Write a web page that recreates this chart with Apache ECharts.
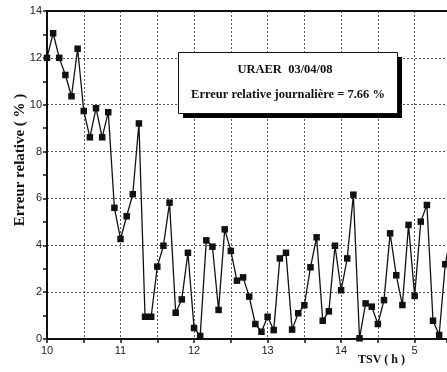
<!DOCTYPE html>
<html>
<head>
<meta charset="utf-8">
<script src="https://cdn.jsdelivr.net/npm/echarts@6/dist/echarts.min.js"></script>
<style>html,body{margin:0;padding:0;background:#fff;}#c{width:447px;height:372px;}</style>
</head>
<body>
<div id="c"></div>
<script>
// Time in hours (TSV), one point every 5 minutes starting at 10:00
const startHour = 10;
const stepHours = 5 / 60;
// Relative error (%)
const errorValues = [
  12.0, 13.05, 12.0, 11.27, 10.36, 12.39, 9.73, 8.61, 9.85, 8.61,
  9.68, 5.6, 4.27, 5.24, 6.18, 9.2, 0.95, 0.95, 3.09, 3.98,
  5.82, 1.12, 1.69, 3.68, 0.47, 0.13, 4.21, 3.94, 1.24, 4.68,
  3.76, 2.49, 2.63, 1.81, 0.64, 0.31, 0.95, 0.38, 3.44, 3.68,
  0.4, 1.1, 1.44, 3.06, 4.34, 0.78, 1.18, 3.98, 2.08, 3.44,
  6.16, 0.03, 1.52, 1.38, 0.64, 1.66, 4.51, 2.72, 1.45, 4.87,
  1.84, 5.01, 5.72, 0.78, 0.17, 3.19, 4.6
];
const xTickLabels = {10: '10', 11: '11', 12: '12', 13: '13', 14: '14', 15: '5'};
const yTickLabels = ['0', '2', '4', '6', '8', '10', '12', '14'];
const boxTitle = 'URAER  03/04/08';
const boxSubtitle = 'Erreur relative journalière = 7.66 %';
const yAxisTitle = 'Erreur relative ( % )';
const xAxisTitle = 'TSV ( h )';

const seriesData = errorValues.map((v, i) => [startHour + i * stepHours, v]);

const chart = echarts.init(document.getElementById('c'), null, {renderer: 'canvas'});
const serif = '"Liberation Serif", "DejaVu Serif", serif';
const sans = '"Liberation Sans", Arial, sans-serif';
chart.setOption({
  animation: false,
  backgroundColor: '#fff',
  grid: {left: 47, top: 11, right: 0, bottom: 33, containLabel: false},
  xAxis: [{
    type: 'value', min: 10, max: 15.44, interval: 1,
    axisLine: {show: true, lineStyle: {color: '#111', width: 2}},
    axisTick: {show: true, length: 4, lineStyle: {color: '#111', width: 1.5}},
    minorTick: {show: true, splitNumber: 2, length: 4, lineStyle: {color: '#111', width: 1.5}},
    axisLabel: {color: '#222', fontFamily: sans, fontSize: 11, margin: 6, showMaxLabel: false,
      formatter: v => xTickLabels[v] !== undefined ? xTickLabels[v] : ''},
    splitLine: {show: true, lineStyle: {color: '#555', type: [2, 2], width: 1}},
    minorSplitLine: {show: true, lineStyle: {color: '#555', type: [2, 2], width: 1}}
  }, {
    type: 'value', position: 'top', min: 10, max: 15.44, interval: 1,
    axisLine: {show: true, onZero: false, lineStyle: {color: '#111', width: 2}},
    axisTick: {show: false}, axisLabel: {show: false}, splitLine: {show: false}
  }],
  yAxis: {
    type: 'value', min: 0, max: 14, interval: 2,
    axisLine: {show: true, lineStyle: {color: '#111', width: 2}},
    axisTick: {show: true, length: 4, lineStyle: {color: '#111', width: 1.5}},
    minorTick: {show: true, splitNumber: 2, length: 4, lineStyle: {color: '#111', width: 1.5}},
    axisLabel: {color: '#222', fontFamily: sans, fontSize: 11, margin: 5,
      formatter: v => yTickLabels[v / 2]},
    splitLine: {show: true, lineStyle: {color: '#555', type: [2, 2], width: 1}}
  },
  series: [{
    type: 'line', data: seriesData, xAxisIndex: 0, clip: false,
    symbol: 'rect', symbolSize: 6.5, showAllSymbol: true,
    lineStyle: {color: '#111', width: 1.3},
    itemStyle: {color: '#111'}
  }],
  graphic: [
    {type: 'rect', left: 183, top: 57, shape: {width: 219, height: 61}, style: {fill: '#000'}, z: 10},
    {type: 'rect', left: 178, top: 52, shape: {width: 219, height: 61}, style: {fill: '#fff', stroke: '#111', lineWidth: 1}, z: 11},
    {type: 'text', z: 12,
      style: {text: boxTitle, x: 285, y: 70, textAlign: 'center', textVerticalAlign: 'middle', font: 'bold 12.5px ' + serif, fill: '#111'}},
    {type: 'text', z: 12,
      style: {text: boxSubtitle, x: 288, y: 95, textAlign: 'center', textVerticalAlign: 'middle', font: 'bold 12.5px ' + serif, fill: '#111'}},
    {type: 'text', z: 12,
      style: {text: xAxisTitle, x: 358, y: 360, textVerticalAlign: 'middle', font: 'bold 12px ' + serif, fill: '#111'}},
    {type: 'text', z: 12, x: 20, y: 160, rotation: Math.PI / 2,
      style: {text: yAxisTitle, x: 0, y: 0, textAlign: 'center', textVerticalAlign: 'middle', font: 'bold 15px ' + serif, fill: '#111'}}
  ]
});
</script>
</body>
</html>
